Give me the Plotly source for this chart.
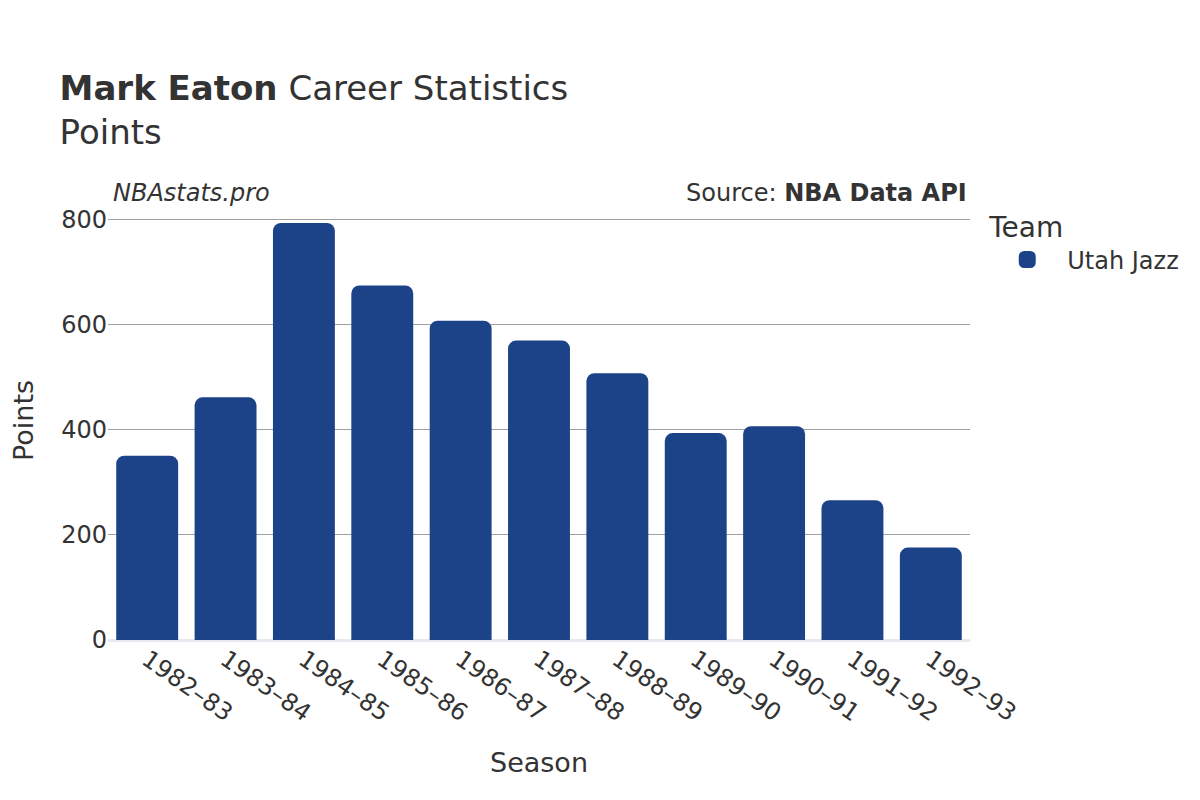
import plotly.graph_objects as go

seasons = ["1982–83", "1983–84", "1984–85", "1985–86", "1986–87", "1987–88",
           "1988–89", "1989–90", "1990–91", "1991–92", "1992–93"]
points = [351, 462, 794, 675, 608, 570, 508, 394, 407, 266, 176]
team = "Utah Jazz"
bar_color = "#1c4288"

fig = go.Figure()
fig.add_trace(go.Bar(x=seasons, y=points, name=team, marker_color=bar_color,
                     marker_line_width=0, showlegend=False, legendgroup=team))
# legend entry only (bigger swatch like the original)
fig.add_trace(go.Bar(x=[None], y=[None], name=team, marker_color=bar_color,
                     marker_line_color=bar_color, marker_line_width=5,
                     showlegend=True, legendgroup=team))

fig.update_layout(
    width=1200, height=800,
    font=dict(family="DejaVu Sans", size=24, color="#333333"),
    title=dict(text="<b>Mark Eaton</b> Career Statistics<br>Points",
               x=0.043, xanchor="left", y=0.885, yanchor="top",
               font=dict(size=34, color="#333333")),
    plot_bgcolor="white", paper_bgcolor="white",
    margin=dict(l=100, r=238, t=193, b=168),
    barcornerradius=8,
    bargap=0.21,
    barmode="overlay",
    showlegend=True,
    legend=dict(title=dict(text="Team", font=dict(size=28)), x=1.02, y=1.0,
                yanchor="top", font=dict(size=24), itemwidth=70),
    xaxis=dict(title=dict(text="Season", font=dict(size=27), standoff=26),
               tickangle=35, showgrid=False, automargin=False),
    yaxis=dict(title=dict(text="Points", font=dict(size=27), standoff=44),
               gridcolor="#a0a0a0", automargin=False,
               zeroline=True, zerolinecolor="#e8e8ee", zerolinewidth=3,
               tickvals=[0, 200, 400, 600, 800]),
    annotations=[
        dict(text="<i>NBAstats.pro</i>", xref="paper", yref="paper", x=0.003, y=0.982,
             xanchor="left", yanchor="bottom", showarrow=False, font=dict(size=24)),
        dict(text="Source: <b>NBA Data API</b>", xref="paper", yref="paper", x=0.999,
             y=0.982, xanchor="right", yanchor="bottom", showarrow=False,
             font=dict(size=24)),
    ],
)

fig.write_html("out.html")
